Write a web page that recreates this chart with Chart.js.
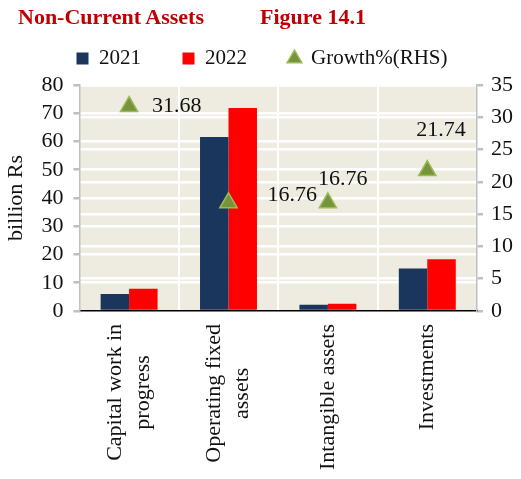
<!DOCTYPE html>
<html>
<head>
<meta charset="utf-8">
<script src="https://cdn.jsdelivr.net/npm/chart.js@4"></script>
<style>
html, body { margin: 0; padding: 0; background: #fff; }
#wrap { position: relative; width: 521px; height: 479px; }
.ttl { position: absolute; top: 4px; font: bold 22px "Liberation Serif", serif; color: #C00000; }
</style>
</head>
<body>
<div id="wrap">
  <div class="ttl" style="left:18px">Non-Current Assets</div>
  <div class="ttl" style="left:260px">Figure 14.1</div>
  <canvas id="chart" width="521" height="479"></canvas>
</div>
<script>
var categories = [['Capital work in', 'progress'], ['Operating fixed', 'assets'], ['Intangible assets'], ['Investments']];
var values2021 = [6.0, 61.6, 2.2, 15.0];
var values2022 = [7.9, 71.9, 2.6, 18.3];
var growth = [31.68, 16.76, 16.76, 21.74];
var leftTicks = { min: 0, max: 80, step: 10 };
var rightTicks = { min: 0, max: 35, step: 5 };

// where each growth label sits relative to its triangle
var labelOffsets = [[23, 0], [39, -8], [-10, -24], [-11, -40]];

Chart.defaults.font.family = '"Liberation Serif", serif';
Chart.defaults.font.size = 22;
Chart.defaults.color = '#111';

var plotBackground = {
  id: 'plotBackground',
  beforeDraw: function(chart) {
    var a = chart.chartArea, ctx = chart.ctx;
    ctx.save();
    ctx.fillStyle = '#EEECE1';
    ctx.fillRect(a.left, a.top, a.right - a.left, a.bottom - a.top);
    ctx.restore();
  }
};

var growthLabels = {
  id: 'growthLabels',
  afterDatasetsDraw: function(chart) {
    var ctx = chart.ctx;
    var meta = chart.getDatasetMeta(2);
    ctx.save();
    ctx.font = '22px "Liberation Serif", serif';
    ctx.fillStyle = '#111';
    ctx.textAlign = 'left';
    ctx.textBaseline = 'middle';
    meta.data.forEach(function(pt, i) {
      ctx.fillText(growth[i].toFixed(2), pt.x + labelOffsets[i][0], pt.y + labelOffsets[i][1]);
    });
    ctx.restore();
  }
};

// category labels: rotated, lines centred on each other
var xLabels = {
  id: 'xLabels',
  afterDraw: function(chart) {
    var ctx = chart.ctx, xs = chart.scales.x;
    ctx.save();
    ctx.font = '22px "Liberation Serif", serif';
    ctx.fillStyle = '#111';
    ctx.textAlign = 'center';
    ctx.textBaseline = 'middle';
    categories.forEach(function(lines, i) {
      var w = Math.max.apply(null, lines.map(function(s) { return ctx.measureText(s).width; }));
      var x = xs.getPixelForValue(i);
      ctx.save();
      ctx.translate(x, xs.top + 13 + w / 2);
      ctx.rotate(-Math.PI / 2);
      lines.forEach(function(s, j) {
        ctx.fillText(s, 0, (j - (lines.length - 1) / 2) * 28);
      });
      ctx.restore();
    });
    ctx.restore();
  }
};

new Chart(document.getElementById('chart').getContext('2d'), {
  type: 'bar',
  data: {
    labels: categories,
    datasets: [{
      label: '2021',
      data: values2021,
      backgroundColor: '#1B365D',
      pointStyle: 'rect',
      yAxisID: 'y',
      order: 1,
      categoryPercentage: 0.573,
      barPercentage: 1
    }, {
      label: '2022',
      data: values2022,
      backgroundColor: '#FF0000',
      pointStyle: 'rect',
      yAxisID: 'y',
      order: 1,
      categoryPercentage: 0.573,
      barPercentage: 1
    }, {
      type: 'line',
      label: 'Growth%(RHS)',
      data: growth,
      showLine: false,
      pointStyle: 'triangle',
      pointRadius: 10,
      pointHoverRadius: 10,
      backgroundColor: '#77933C',
      borderColor: '#9BBB59',
      borderWidth: 1.5,
      yAxisID: 'y1',
      order: 0
    }]
  },
  options: {
    responsive: false,
    animation: false,
    layout: { padding: { top: 38, right: 0, left: 3, bottom: 10 } },
    plugins: {
      tooltip: { enabled: false },
      // empty spacer between legend and plot
      subtitle: { display: true, text: ' ', weight: 500, font: { size: 5 }, padding: { top: 0, bottom: 0 } },
      legend: {
        position: 'top',
        labels: {
          usePointStyle: true,
          boxWidth: 12,
          boxHeight: 12,
          padding: 10,
          font: { size: 21 },
          sort: function(a, b) { return a.datasetIndex - b.datasetIndex; },
          generateLabels: function(chart) {
            var items = Chart.defaults.plugins.legend.labels.generateLabels(chart);
            items.forEach(function(it) {
              if (it.datasetIndex < 2) it.text = it.text + '      ';
            });
            return items;
          }
        }
      }
    },
    scales: {
      x: {
        ticks: { color: 'transparent', maxRotation: 90, minRotation: 90, padding: 6 },
        grid: { color: '#fff', lineWidth: 2, drawTicks: false },
        border: { color: '#000', width: 1.5 }
      },
      y: {
        position: 'left',
        min: leftTicks.min,
        max: leftTicks.max,
        ticks: { stepSize: leftTicks.step, padding: 10, autoSkip: false },
        grid: {
          color: function(c) { return c.tick.value === 0 ? 'transparent' : '#fff'; },
          lineWidth: 2.5,
          tickColor: '#BFBFBF',
          tickLength: 6
        },
        border: { color: '#BFBFBF', width: 1.5 },
        title: { display: true, text: 'billion Rs', padding: { top: 0, bottom: 2 } }
      },
      y1: {
        position: 'right',
        min: rightTicks.min,
        max: rightTicks.max,
        ticks: { stepSize: rightTicks.step, padding: 8, autoSkip: false },
        grid: {
          color: function(c) { return c.tick.value === 0 ? 'transparent' : '#fff'; },
          lineWidth: 2.5,
          tickColor: '#BFBFBF',
          tickLength: 6
        },
        border: { color: '#BFBFBF', width: 1.5 }
      }
    }
  },
  plugins: [plotBackground, growthLabels, xLabels]
});
</script>
</body>
</html>
